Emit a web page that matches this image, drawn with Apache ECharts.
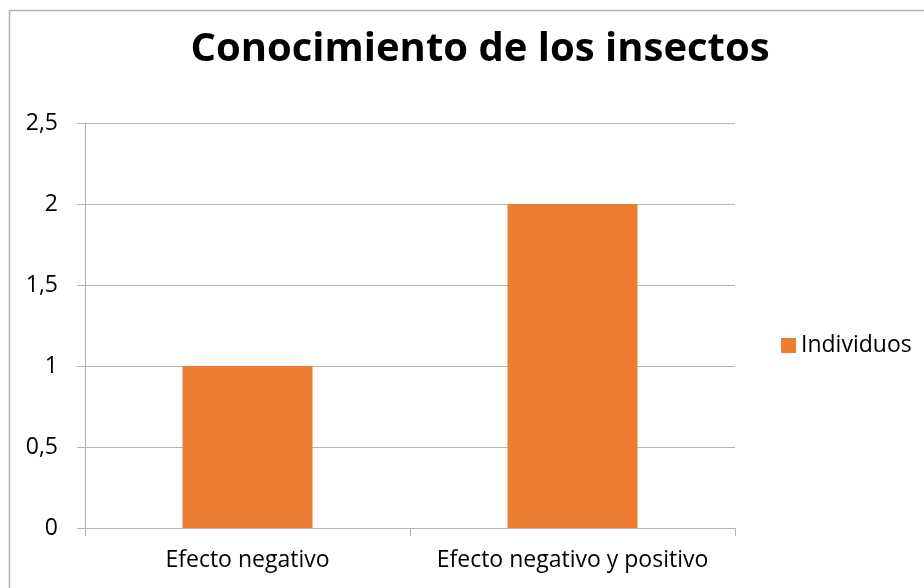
<!DOCTYPE html>
<html>
<head>
<meta charset="utf-8">
<script src="https://cdn.jsdelivr.net/npm/echarts@6/dist/echarts.min.js"></script>
<style>
html, body { margin: 0; padding: 0; background: #fff; }
#chart { width: 924px; height: 588px; }
</style>
</head>
<body>
<div id="chart"></div>
<script>
var categories = ['Efecto negativo', 'Efecto negativo y positivo'];
var individuos = [1, 2];
var yTicks = [0, 0.5, 1, 1.5, 2, 2.5];

var chart = echarts.init(document.getElementById('chart'));
var font = 'Open Sans';

chart.setOption({
    animation: false,
    title: {
        text: 'Conocimiento de los insectos',
        left: 475,
        textAlign: 'center',
        top: 25,
        textStyle: { fontFamily: font, fontWeight: 'bold', fontSize: 40, color: '#000' }
    },
    graphic: [{
        type: 'rect',
        shape: { x: 9.5, y: 10.5, width: 1000, height: 1000 },
        style: { fill: 'none', stroke: '#b4b4b4', lineWidth: 1.5 },
        silent: true
    }],
    legend: {
        data: ['Individuos'],
        orient: 'vertical',
        left: 776,
        top: 329,
        icon: 'rect',
        itemWidth: 15,
        itemHeight: 15,
        itemGap: 8,
        textStyle: { fontFamily: font, fontSize: 23, color: '#000' }
    },
    grid: { left: 85, right: 189, top: 123, bottom: 60, containLabel: false },
    xAxis: {
        type: 'category',
        data: categories,
        axisLine: { lineStyle: { color: '#b4b4b4', width: 1 } },
        axisTick: { show: true, length: 8, alignWithLabel: false, lineStyle: { color: '#b4b4b4' } },
        axisLabel: { interval: 0, hideOverlap: false, fontFamily: font, fontSize: 23, color: '#000', margin: 21 }
    },
    yAxis: {
        type: 'value',
        min: yTicks[0],
        max: yTicks[yTicks.length - 1],
        interval: 0.5,
        axisLine: { show: true, lineStyle: { color: '#b4b4b4' } },
        axisTick: { show: true, length: 8, lineStyle: { color: '#b4b4b4' } },
        splitLine: { lineStyle: { color: '#b4b4b4' } },
        axisLabel: {
            fontFamily: font, fontSize: 23, color: '#000', margin: 27,
            formatter: function (v) { return String(v).replace('.', ','); }
        }
    },
    series: [{
        name: 'Individuos',
        type: 'bar',
        data: individuos,
        barWidth: '40%',
        itemStyle: { color: '#ED7D31' }
    }]
});
</script>
</body>
</html>
